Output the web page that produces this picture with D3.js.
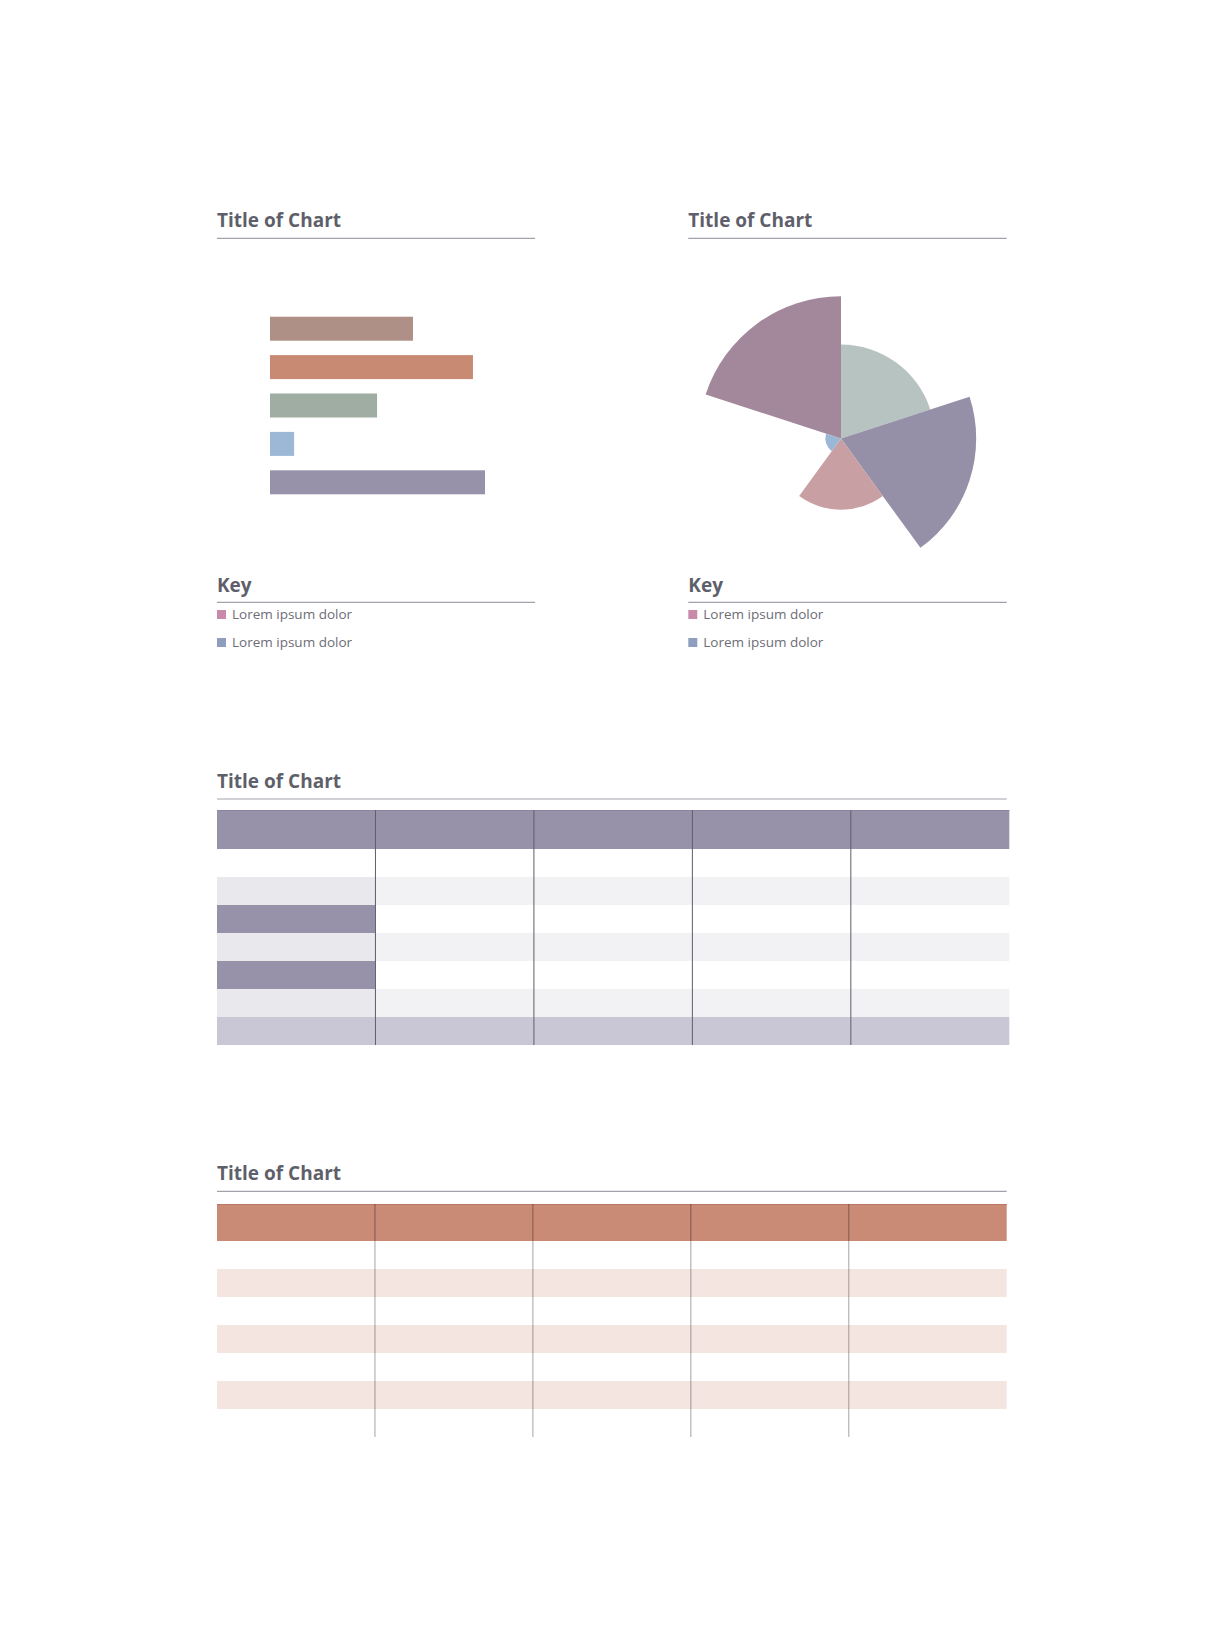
<!DOCTYPE html>
<html>
<head>
<meta charset="utf-8">
<script src="https://cdn.jsdelivr.net/npm/d3@7"></script>
<style>
  html, body { margin: 0; padding: 0; background: #ffffff; }
  svg { display: block; }
</style>
</head>
<body>
<script>
// ---------- DATA ----------
const barCategories = ["A", "B", "C", "D", "E"];
const barValues = [66.5, 94.4, 49.8, 11.2, 100];
const barColors = ["#ae9087", "#c98a73", "#9fada2", "#9cb8d6", "#9792aa"];

const polarCategories = ["A", "B", "C", "D", "E"];
const polarValues = [66, 95, 50, 11, 100];
const polarColors = ["#b7c3c1", "#9590a8", "#c89fa3", "#9ab8d6", "#a3879b"];

const legendLabels = ["Lorem ipsum dolor", "Lorem ipsum dolor"];
const legendColors = ["#c98aa9", "#8f9ebf"];

const chartTitles = ["Title of Chart", "Title of Chart", "Title of Chart", "Title of Chart"];
const keyTitle = "Key";

const tableColumns = ["c1", "c2", "c3", "c4", "c5"];
const table1Rows = ["r1", "r2", "r3", "r4", "r5", "r6", "footer"];
const table1FirstColFill = ["#ffffff", "#e9e8ed", "#9792aa", "#e9e8ed", "#9792aa", "#e9e8ed", "#c9c7d6"];
const table1OtherColFill = ["#ffffff", "#f2f2f4", "#ffffff", "#f2f2f4", "#ffffff", "#f2f2f4", "#c9c7d6"];
const table2Rows = ["r1", "r2", "r3", "r4", "r5", "r6", "r7"];
const table2Fill = ["#ffffff", "#f5e5e1", "#ffffff", "#f5e5e1", "#ffffff", "#f5e5e1", "#ffffff"];

// ---------- SETUP ----------
const W = 1222, H = 1630;
const svg = d3.select("body").append("svg").attr("width", W).attr("height", H);
const titleFont = "'Open Sans', 'Noto Sans', sans-serif";
const titleColor = "#5e5f6a";
const ruleColor = "#a3a1ab";

function heading(x, y, text, lineX2, lineY) {
  svg.append("text").attr("x", x).attr("y", y)
    .attr("font-family", titleFont).attr("font-weight", 700)
    .attr("font-size", 19)
    .attr("fill", titleColor).text(text);
  svg.append("line").attr("x1", x).attr("x2", lineX2)
    .attr("y1", lineY).attr("y2", lineY)
    .attr("stroke", ruleColor).attr("stroke-width", 1.2);
}

function legend(x, y0) {
  const g = svg.append("g");
  legendLabels.forEach((lab, i) => {
    const y = y0 + i * 28;
    g.append("rect").attr("x", x).attr("y", y - 9).attr("width", 9).attr("height", 9)
      .attr("fill", legendColors[i]);
    g.append("text").attr("x", x + 15).attr("y", y)
      .attr("font-family", titleFont).attr("font-weight", 400)
      .attr("font-size", 13.5).attr("fill", "#6d6d75").text(lab);
  });
}

// ---------- BAR CHART ----------
heading(217, 226.7, chartTitles[0], 535, 238.3);
const xBar = d3.scaleLinear().domain([0, 100]).range([270, 485]);
const yBar = d3.scaleBand().domain(barCategories).range([316.7, 494.3]).paddingInner(0.375).paddingOuter(0);
svg.append("g").selectAll("rect").data(barCategories).join("rect")
  .attr("x", xBar(0))
  .attr("y", d => yBar(d))
  .attr("width", (d, i) => xBar(barValues[i]) - xBar(0))
  .attr("height", yBar.bandwidth())
  .attr("fill", (d, i) => barColors[i]);

heading(217, 591.7, keyTitle, 535, 602.3);
legend(217, 619);

// ---------- POLAR AREA ----------
heading(688.3, 226.7, chartTitles[1], 1006.7, 238.3);
const cx = 841, cy = 438.5;
const rScale = d3.scaleLinear().domain([0, 100]).range([0, 142.3]);
const angle = d3.scaleBand().domain(polarCategories).range([0, 2 * Math.PI]);
const arc = d3.arc().innerRadius(0);
svg.append("g").attr("transform", `translate(${cx},${cy})`)
  .selectAll("path").data(polarCategories).join("path")
  .attr("d", (d, i) => arc({
    outerRadius: rScale(polarValues[i]),
    startAngle: angle(d),
    endAngle: angle(d) + angle.bandwidth()
  }))
  .attr("fill", (d, i) => polarColors[i]);

heading(688.3, 591.7, keyTitle, 1006.7, 602.3);
legend(688.3, 619);

// ---------- TABLE 1 ----------
heading(217, 788, chartTitles[2], 1006.7, 799);
{
  const x = d3.scaleBand().domain(tableColumns).range([217, 1009.3]);
  const headTop = 810, headH = 39, rowH = 28;
  const bodyTop = headTop + headH;
  const y = d3.scaleBand().domain(table1Rows).range([bodyTop, bodyTop + rowH * table1Rows.length]);
  const g = svg.append("g");
  g.append("rect").attr("x", x.range()[0]).attr("y", headTop)
    .attr("width", x.range()[1] - x.range()[0]).attr("height", headH).attr("fill", "#9792aa");
  g.append("line").attr("x1", x.range()[0]).attr("x2", x.range()[1])
    .attr("y1", headTop + 0.5).attr("y2", headTop + 0.5).attr("stroke", "#8a85a0");
  tableColumns.forEach((c, ci) => {
    table1Rows.forEach((r, ri) => {
      g.append("rect").attr("x", x(c)).attr("y", y(r))
        .attr("width", x.bandwidth()).attr("height", y.bandwidth())
        .attr("fill", ci === 0 ? table1FirstColFill[ri] : table1OtherColFill[ri]);
    });
  });
  tableColumns.slice(1).forEach(c => {
    g.append("line").attr("x1", x(c)).attr("x2", x(c))
      .attr("y1", headTop).attr("y2", y.range()[1])
      .attr("stroke", "#5f5d6a").attr("stroke-width", 1);
  });
}

// ---------- TABLE 2 ----------
heading(217, 1180, chartTitles[3], 1006.7, 1191.3);
{
  const x = d3.scaleBand().domain(tableColumns).range([217, 1006.7]);
  const headTop = 1204, headH = 37, rowH = 28;
  const bodyTop = headTop + headH;
  const y = d3.scaleBand().domain(table2Rows).range([bodyTop, bodyTop + rowH * table2Rows.length]);
  const g = svg.append("g");
  g.append("rect").attr("x", x.range()[0]).attr("y", headTop)
    .attr("width", x.range()[1] - x.range()[0]).attr("height", headH).attr("fill", "#c98b75");
  g.append("line").attr("x1", x.range()[0]).attr("x2", x.range()[1])
    .attr("y1", headTop + 0.5).attr("y2", headTop + 0.5).attr("stroke", "#bb7862");
  tableColumns.forEach(c => {
    table2Rows.forEach((r, ri) => {
      g.append("rect").attr("x", x(c)).attr("y", y(r))
        .attr("width", x.bandwidth()).attr("height", y.bandwidth())
        .attr("fill", table2Fill[ri]);
    });
  });
  tableColumns.slice(1).forEach(c => {
    g.append("line").attr("x1", x(c)).attr("x2", x(c))
      .attr("y1", headTop).attr("y2", y.range()[1])
      .attr("stroke", "#000000").attr("stroke-opacity", 0.3).attr("stroke-width", 1.2);
  });
}
</script>
</body>
</html>
